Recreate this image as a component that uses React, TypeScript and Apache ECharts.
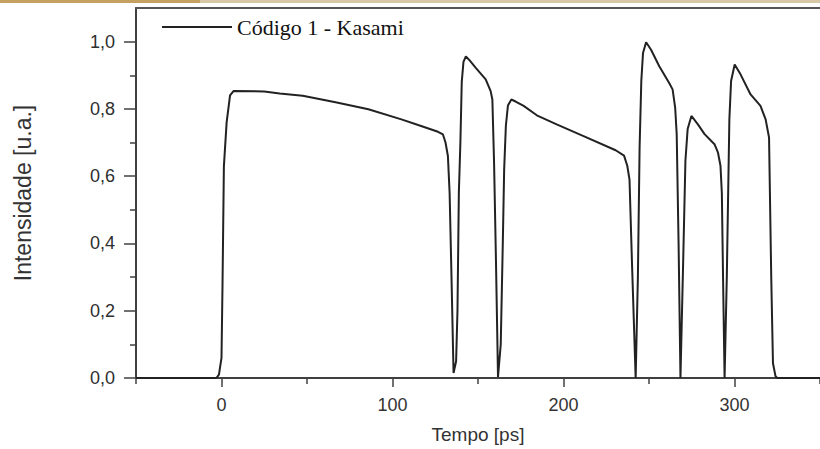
import React, { useEffect, useRef } from "react";
import * as echarts from "echarts";

const timePs: number[] = [
  -50, -3, -1.5, 0, 0.6, 1.4, 3, 5, 7, 25, 34, 47.5, 66.7, 85.9, 105.2, 115, 126.6, 129.5, 131, 132.4, 133.4, 134.5, 135.7,
  137.2, 138, 138.8, 139.7, 140.5, 141.5, 142.9, 145, 148.7, 154.5, 157.4, 158.4, 159.4, 160.5, 161.7,
  163.3, 164.5, 165.3, 166.3, 167.5, 169.5, 172, 176.7, 184.4, 196, 211.4, 230.5, 235.4, 237.3, 238.6, 240, 242.2,
  243.5, 244.5, 245.5, 246.5, 248.3, 251.2, 256, 261.8, 263.8, 265.3, 266.2, 267.3, 268.4,
  270, 271.3, 272.6, 274.8, 278.6, 282.5, 288.3, 290.3, 291.8, 292.6, 293.3, 294.2,
  295.5, 297, 298, 300.1, 303.6, 309.4, 315.2, 318.2, 320.2, 321.5, 322.5, 324, 325, 350,
];

const intensity: number[] = [
  0, 0, 0.01, 0.06, 0.28, 0.63, 0.76, 0.84, 0.853, 0.852, 0.846, 0.839, 0.82, 0.799, 0.769, 0.752, 0.732, 0.724, 0.7, 0.66, 0.55, 0.3, 0.015,
  0.05, 0.2, 0.55, 0.7, 0.88, 0.94, 0.956, 0.945, 0.922, 0.888, 0.853, 0.828, 0.64, 0.35, 0.003,
  0.1, 0.4, 0.62, 0.75, 0.81, 0.828, 0.822, 0.809, 0.781, 0.754, 0.72, 0.677, 0.661, 0.631, 0.59, 0.35, 0.0,
  0.3, 0.685, 0.883, 0.966, 0.998, 0.976, 0.927, 0.877, 0.858, 0.804, 0.725, 0.4, 0.0,
  0.35, 0.646, 0.74, 0.779, 0.754, 0.725, 0.695, 0.671, 0.631, 0.55, 0.3, 0.0,
  0.3, 0.769, 0.883, 0.932, 0.902, 0.843, 0.809, 0.769, 0.715, 0.296, 0.044, 0.005, 0, 0,
];

const xMajorTicks: number[] = [0, 100, 200, 300];
const xMinorTicks: number[] = [-50, 50, 150, 250, 350];
const yMajorTicks: number[] = [0, 0.2, 0.4, 0.6, 0.8, 1.0];
const yMinorTicks: number[] = [0.1, 0.3, 0.5, 0.7, 0.9];

const seriesName = "Código 1 - Kasami";
const xAxisTitle = "Tempo [ps]";
const yAxisTitle = "Intensidade [u.a.]";

const AXIS_COLOR = "#404040";
const LABEL_FONT = '"Liberation Sans", Arial, sans-serif';

export default function App() {
  const ref = useRef<HTMLDivElement>(null);

  useEffect(() => {
    if (!ref.current) return;
    const chart = echarts.init(ref.current, null, { renderer: "svg" });
    const data = timePs.map((t, i) => [t, intensity[i]]);
    const xBase = { type: "value", min: -50, max: 350, gridIndex: 0, splitLine: { show: false } };
    const yBase = { type: "value", min: 0, max: 1.1, gridIndex: 0, splitLine: { show: false } };
    chart.setOption({
      animation: false,
      backgroundColor: "#ffffff",
      graphic: [
        { type: "rect", left: 0, top: 0, shape: { width: 200, height: 3 }, style: { fill: "#c4a062" } },
        { type: "rect", left: 200, top: 0, shape: { width: 620, height: 3 }, style: { fill: "#d8c9a6" } },
      ],
      grid: { left: 136, top: 8, right: -6.5, bottom: 68, containLabel: false },
      legend: {
        show: true,
        left: 157,
        top: 11,
        itemWidth: 70,
        itemHeight: 2,
        icon: "path://M0,0 L70,0 L70,2 L0,2 Z",
        data: [{ name: seriesName }],
        itemStyle: { color: "#222" },
        textStyle: { fontFamily: '"Liberation Serif", "Times New Roman", serif', fontSize: 22, color: "#111" },
      },
      xAxis: [
        {
          ...xBase,
          position: "bottom",
          name: xAxisTitle,
          nameLocation: "middle",
          nameGap: 47,
          nameTextStyle: { fontFamily: LABEL_FONT, fontSize: 19, color: "#333" },
          axisLine: { show: true, onZero: false, lineStyle: { color: AXIS_COLOR, width: 2 } },
          axisTick: { show: true, customValues: xMajorTicks, length: 9, lineStyle: { color: AXIS_COLOR, width: 1.5 } },
          axisLabel: {
            show: true,
            customValues: xMajorTicks,
            margin: 18,
            fontFamily: LABEL_FONT,
            fontSize: 18,
            color: "#333",
          },
        },
        {
          ...xBase,
          position: "bottom",
          axisLine: { show: false, onZero: false },
          axisTick: { show: true, customValues: xMinorTicks, length: 6, lineStyle: { color: AXIS_COLOR, width: 1.5 } },
          axisLabel: { show: false },
        },
        {
          ...xBase,
          position: "top",
          axisLine: { show: true, onZero: false, lineStyle: { color: "#555", width: 2 } },
          axisTick: { show: false },
          axisLabel: { show: false },
        },
      ],
      yAxis: [
        {
          ...yBase,
          position: "left",
          name: yAxisTitle,
          nameLocation: "middle",
          nameGap: 102,
          nameRotate: 90,
          nameTextStyle: {
            fontFamily: LABEL_FONT,
            fontSize: 23,
            color: "#333",
          },
          axisLine: { show: true, onZero: false, lineStyle: { color: AXIS_COLOR, width: 2 } },
          axisTick: { show: true, customValues: yMajorTicks, length: 12, lineStyle: { color: AXIS_COLOR, width: 1.5 } },
          axisLabel: {
            show: true,
            customValues: yMajorTicks,
            margin: 21,
            fontFamily: LABEL_FONT,
            fontSize: 18,
            color: "#2e2e2e",
            formatter: (v: number) => v.toFixed(1).replace(".", ","),
          },
        },
        {
          ...yBase,
          position: "left",
          axisLine: { show: false, onZero: false },
          axisTick: { show: true, customValues: yMinorTicks, length: 6, lineStyle: { color: AXIS_COLOR, width: 1.5 } },
          axisLabel: { show: false },
        },
      ],
      series: [
        {
          name: seriesName,
          type: "line",
          xAxisIndex: 0,
          yAxisIndex: 0,
          data,
          symbol: "none",
          lineStyle: { color: "#222", width: 2 },
          itemStyle: { color: "#222" },
        },
      ],
    });
    return () => chart.dispose();
  }, []);

  return (
    <div
      ref={ref}
      style={{ position: "absolute", left: 0, top: 0, width: 820, height: 449, background: "#fff" }}
    />
  );
}
